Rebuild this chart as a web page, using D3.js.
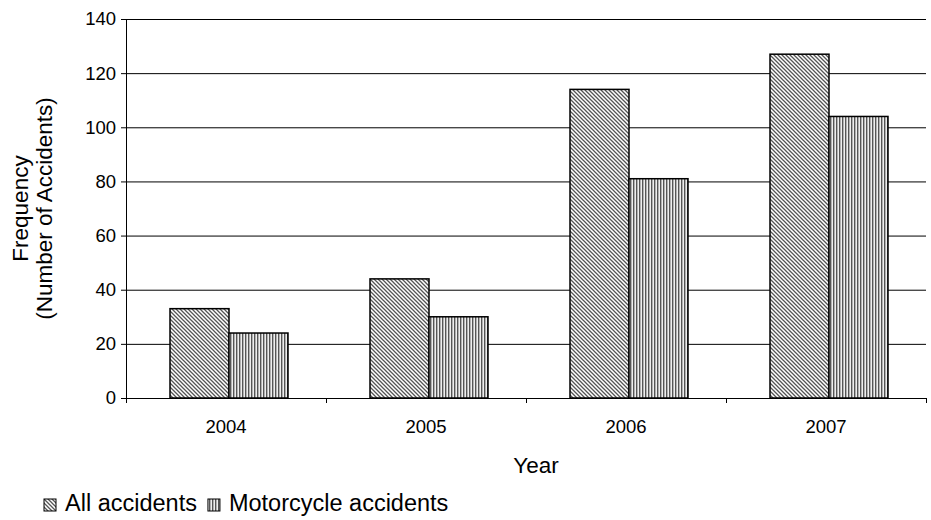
<!DOCTYPE html>
<html>
<head>
<meta charset="utf-8">
<script src="https://cdn.jsdelivr.net/npm/d3@7"></script>
<style>
  body { margin: 0; background: #fff; }
  text { font-family: "Liberation Sans", Arial, sans-serif; fill: #000; }
</style>
</head>
<body>
<svg id="chart" width="931" height="520"></svg>
<script>
var years = ['2004', '2005', '2006', '2007'];
var seriesNames = ['All accidents', 'Motorcycle accidents'];
var allAccidents = [33, 44, 114, 127];
var motorcycleAccidents = [24, 30, 81, 104];
var yTicks = [0, 20, 40, 60, 80, 100, 120, 140];

var margin = { top: 19, right: 5, bottom: 122, left: 126 };
var width = 931 - margin.left - margin.right;
var height = 520 - margin.top - margin.bottom;

var svg = d3.select('#chart');
var defs = svg.append('defs');

// diagonal hatch for all accidents
var p1 = defs.append('pattern')
    .attr('id', 'hatchDiag')
    .attr('patternUnits', 'userSpaceOnUse')
    .attr('width', 4).attr('height', 4);
p1.append('rect').attr('width', 4).attr('height', 4).attr('fill', '#fff');
p1.append('path')
    .attr('d', 'M-1,-1 L5,5 M-1,3 L1,5 M3,-1 L5,1')
    .attr('stroke', '#555').attr('stroke-width', 1.3);

// vertical stripes for motorcycle accidents
var p2 = defs.append('pattern')
    .attr('id', 'hatchVert')
    .attr('patternUnits', 'userSpaceOnUse')
    .attr('width', 3).attr('height', 3);
p2.append('rect').attr('width', 3).attr('height', 3).attr('fill', '#eee');
p2.append('rect').attr('x', 0).attr('width', 1.4).attr('height', 3).attr('fill', '#555');

var g = svg.append('g').attr('transform', 'translate(' + margin.left + ',' + margin.top + ')');

var x0 = d3.scaleBand().domain(years).range([0, width]).padding(0);
var x1 = d3.scaleBand().domain(seriesNames).range([0, 118]);
var y = d3.scaleLinear().domain([0, 140]).range([height, 0]);

// gridlines
g.selectAll('.grid').data(yTicks.filter(function (d) { return d > 0; }))
  .enter().append('line')
    .attr('x1', 0).attr('x2', width)
    .attr('y1', function (d) { return y(d) + 0.5; })
    .attr('y2', function (d) { return y(d) + 0.5; })
    .attr('stroke', '#000').attr('stroke-width', 1);

var data = years.map(function (yr, i) {
    return { year: yr, values: [allAccidents[i], motorcycleAccidents[i]] };
});
var fills = ['url(#hatchDiag)', 'url(#hatchVert)'];

var groups = g.selectAll('.grp').data(data).enter().append('g')
    .attr('transform', function (d) {
        return 'translate(' + (x0(d.year) + x0.bandwidth() / 2 - 56) + ',0)';
    });

groups.selectAll('rect').data(function (d) {
        return d.values.map(function (v, j) { return { name: seriesNames[j], value: v, j: j }; });
    })
  .enter().append('rect')
    .attr('x', function (d) { return x1(d.name); })
    .attr('width', x1.bandwidth())
    .attr('y', function (d) { return y(d.value); })
    .attr('height', function (d) { return height - y(d.value); })
    .attr('fill', function (d) { return fills[d.j]; })
    .attr('stroke', '#000').attr('stroke-width', 1.5);

// y axis
var yAxis = g.append('g')
    .call(d3.axisLeft(y).tickValues(yTicks).tickSize(5).tickSizeOuter(0));
yAxis.select('.domain').attr('stroke', '#000');
yAxis.selectAll('text').style('font-size', '18.5px').attr('x', -10);

// x axis
var xAxis = g.append('g').attr('transform', 'translate(0,' + height + ')')
    .call(d3.axisBottom(x0).tickSize(0).tickSizeOuter(0));
xAxis.select('.domain').attr('stroke', '#000');
xAxis.selectAll('text').style('font-size', '18.5px').attr('y', 0).attr('dy', '35');
// tick marks at category boundaries
xAxis.selectAll('.bound').data(d3.range(years.length + 1))
  .enter().append('line')
    .attr('x1', function (i) { return i * x0.step() + 0.5; })
    .attr('x2', function (i) { return i * x0.step() + 0.5; })
    .attr('y1', 0).attr('y2', 5)
    .attr('stroke', '#000');

// axis titles
svg.append('text')
    .attr('x', margin.left + width / 2 + 10).attr('y', 473)
    .attr('text-anchor', 'middle').style('font-size', '22.5px')
    .text('Year');

var yt = svg.append('text')
    .attr('transform', 'translate(28,' + (margin.top + height / 2) + ') rotate(-90)')
    .attr('text-anchor', 'middle').style('font-size', '22.5px');
yt.append('tspan').attr('x', 0).attr('dy', 0).text('Frequency');
yt.append('tspan').attr('x', 0).attr('dy', 24).text('(Number of Accidents)');

// legend
var legend = svg.append('g').attr('transform', 'translate(44,511)');
var lx = 0;
seriesNames.forEach(function (name, i) {
    legend.append('rect')
        .attr('x', lx).attr('y', -12).attr('width', 12).attr('height', 12)
        .attr('fill', fills[i]).attr('stroke', '#000').attr('stroke-width', 1);
    var t = legend.append('text')
        .attr('x', lx + 21).attr('y', 0)
        .style('font-size', '23.5px')
        .text(name);
    lx += 21 + t.node().getComputedTextLength() + 11;
});
</script>
</body>
</html>
